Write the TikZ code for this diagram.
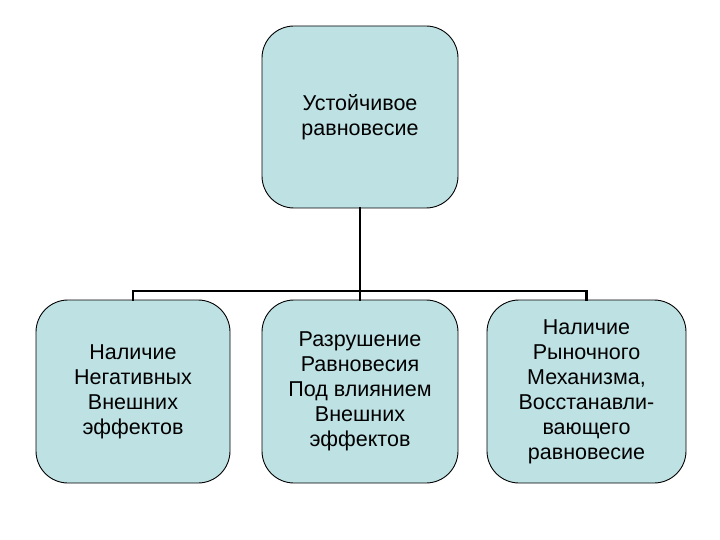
\documentclass[tikz,border=0pt]{standalone}
\usepackage{fontspec}
\setmainfont{Liberation Sans}
\definecolor{boxfill}{RGB}{190,225,228}
\begin{document}
\begin{tikzpicture}[x=1pt,y=-1pt,
  box/.style={draw=black,line width=0.9pt,fill=boxfill,rounded corners=32pt,
    minimum width=195pt,minimum height=182pt,inner sep=0pt,align=center,
    font=\fontsize{21.5}{25}\selectfont},
  conn/.style={line width=2.2pt,line cap=rect}]
\useasboundingbox (0,0) rectangle (720,540);
\node[box,minimum width=196pt] (top) at (360,117) {Устойчивое\\ равновесие};
\node[box,minimum width=194pt,minimum height=183pt] (l) at (133,391.5) {Наличие\\Негативных\\Внешних\\эффектов};
\node[box,minimum width=196pt,minimum height=183pt] (m) at (360,391.5) {Разрушение\\Равновесия\\Под влиянием\\Внешних\\эффектов};
\node[box,minimum width=199pt,minimum height=183pt] (r) at (586.5,391.5) {Наличие\\Рыночного\\Механизма,\\Восстанавли-\\вающего\\равновесие};
\coordinate (hl) at (133,291);
\coordinate (hr) at (586.5,291);
\draw[conn,line width=2.8pt] (top.south) -- (m.north);
\draw[conn] (l.north) -- (hl) -- (hr) -- (r.north);
\end{tikzpicture}
\end{document}
